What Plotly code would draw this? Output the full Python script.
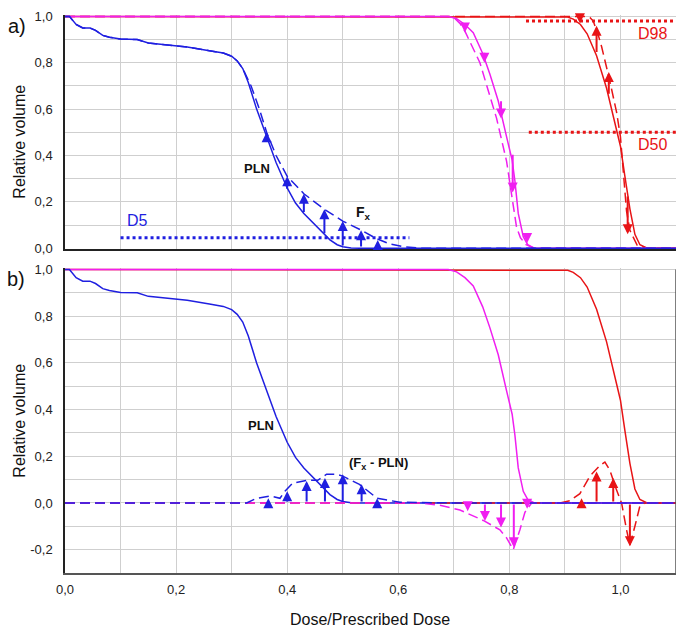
import plotly.graph_objects as go

# ---------------- data ----------------
pln_x = [0.000, 0.008, 0.020, 0.032, 0.045, 0.055, 0.068, 0.080, 0.100, 0.130, 0.150, 0.180, 0.220, 0.260,
         0.285, 0.300, 0.310, 0.320, 0.330, 0.345, 0.363, 0.380, 0.400, 0.415, 0.430, 0.447, 0.459, 0.468,
         0.477, 0.490, 0.500, 0.515, 0.530, 1.100]
pln_y = [1.000, 1.000, 0.965, 0.950, 0.950, 0.940, 0.918, 0.910, 0.902, 0.900, 0.885, 0.878, 0.868, 0.852,
         0.842, 0.828, 0.808, 0.775, 0.715, 0.600, 0.480, 0.370, 0.260, 0.195, 0.150, 0.108, 0.082, 0.060,
         0.036, 0.015, 0.006, 0.001, 0.000, 0.000]

pln_fx_x = [0.000, 0.008, 0.020, 0.032, 0.045, 0.055, 0.068, 0.080, 0.100, 0.130, 0.150, 0.180, 0.220, 0.260,
            0.285, 0.300, 0.310, 0.320, 0.335, 0.350, 0.363, 0.380, 0.400, 0.430, 0.467, 0.500, 0.534, 0.560,
            0.585, 0.610, 0.640, 1.100]
pln_fx_y = [1.000, 1.000, 0.965, 0.950, 0.950, 0.940, 0.918, 0.910, 0.902, 0.900, 0.885, 0.878, 0.868, 0.852,
            0.842, 0.828, 0.808, 0.775, 0.700, 0.600, 0.500, 0.400, 0.310, 0.235, 0.168, 0.117, 0.077, 0.042,
            0.018, 0.006, 0.000, 0.000]

mag_x = [0.000, 0.690, 0.705, 0.720, 0.735, 0.752, 0.765, 0.780, 0.795, 0.805, 0.810, 0.816, 0.825, 0.833, 0.845, 1.100]
mag_y = [1.000, 1.000, 0.990, 0.965, 0.930, 0.840, 0.750, 0.635, 0.480, 0.380, 0.290, 0.150, 0.050, 0.015, 0.000, 0.000]

mag_fx_x = [0.000, 0.690, 0.700, 0.711, 0.720, 0.747, 0.777, 0.795, 0.803, 0.813, 0.820, 0.830, 0.845, 1.100]
mag_fx_y = [1.000, 1.000, 0.995, 0.970, 0.936, 0.800, 0.560, 0.375, 0.247, 0.090, 0.045, 0.015, 0.000, 0.000]

red_x = [0.000, 0.890, 0.905, 0.915, 0.928, 0.940, 0.957, 0.975, 0.990, 1.000, 1.008, 1.017, 1.026, 1.035, 1.048, 1.100]
red_y = [1.000, 1.000, 0.997, 0.988, 0.965, 0.925, 0.830, 0.690, 0.540, 0.440, 0.310, 0.170, 0.060, 0.015, 0.000, 0.000]

red_fx_x = [0.000, 0.935, 0.945, 0.951, 0.960, 0.966, 0.980, 0.993, 1.000, 1.005, 1.011, 1.017, 1.030, 1.048, 1.100]
red_fx_y = [1.000, 1.000, 0.995, 0.980, 0.920, 0.870, 0.730, 0.587, 0.480, 0.345, 0.160, 0.077, 0.013, 0.000, 0.000]

# differences (Fx - PLN), panel b
pln_diff_x = [0.000, 0.327, 0.345, 0.369, 0.387, 0.396, 0.410, 0.435, 0.455, 0.471, 0.489, 0.500, 0.530, 0.562, 0.603, 0.700, 1.100]
pln_diff_y = [0.000, 0.000, 0.020, 0.030, 0.020, 0.050, 0.085, 0.097, 0.097, 0.123, 0.123, 0.115, 0.080, 0.020, 0.003, 0.000, 0.000]

mag_diff_x = [0.000, 0.640, 0.675, 0.711, 0.753, 0.783, 0.795, 0.807, 0.819, 0.828, 0.840, 1.100]
mag_diff_y = [0.000, 0.000, -0.010, -0.030, -0.075, -0.115, -0.150, -0.200, -0.115, -0.040, 0.000, 0.000]

red_diff_x = [0.000, 0.891, 0.909, 0.927, 0.945, 0.963, 0.972, 0.981, 0.993, 1.002, 1.011, 1.017, 1.026, 1.035, 1.044, 1.100]
red_diff_y = [0.000, 0.000, 0.010, 0.040, 0.115, 0.160, 0.175, 0.140, 0.055, 0.000, -0.115, -0.180, -0.100, -0.013, 0.000, 0.000]

# arrows panel a: x, from (PLN), to (Fx)
a_pln_arrow_x = [0.363, 0.400, 0.430, 0.467, 0.500, 0.533, 0.563]
a_pln_arrow_from = [0.470, 0.250, 0.150, 0.058, 0.005, 0.001, 0.001]
a_pln_arrow_to = [0.500, 0.310, 0.235, 0.168, 0.117, 0.077, 0.035]

a_mag_arrow_x = [0.720, 0.755, 0.785, 0.806, 0.832]
a_mag_arrow_from = [0.960, 0.850, 0.640, 0.410, 0.040]
a_mag_arrow_to = [0.930, 0.800, 0.560, 0.240, 0.022]

a_red_arrow_x = [0.927, 0.957, 0.979, 1.013, 1.033]
a_red_arrow_from = [0.990, 0.840, 0.660, 0.230, 0.025]
a_red_arrow_to = [0.970, 0.960, 0.760, 0.060, 0.008]

# arrows panel b: x, tip (base = 0)
b_pln_arrow_x = [0.366, 0.400, 0.435, 0.468, 0.500, 0.534, 0.562]
b_pln_arrow_to = [0.020, 0.050, 0.094, 0.107, 0.123, 0.080, 0.020]

b_mag_arrow_x = [0.725, 0.756, 0.785, 0.808, 0.832]
b_mag_arrow_to = [-0.035, -0.077, -0.105, -0.190, -0.025]

b_red_arrow_x = [0.930, 0.957, 0.987, 1.017, 1.037]
b_red_arrow_to = [0.020, 0.135, 0.107, -0.185, -0.015]

# reference dose levels
d5_x = [0.10, 0.62]
d5_y = [0.045, 0.045]
d98_x = [0.83, 1.10]
d98_y = [0.98, 0.98]
d50_x = [0.835, 1.10]
d50_y = [0.50, 0.50]

x_tick_vals = [0.0, 0.1, 0.2, 0.3, 0.4, 0.5, 0.6, 0.7, 0.8, 0.9, 1.0, 1.1]
x_tick_text = ["0,0", "", "0,2", "", "0,4", "", "0,6", "", "0,8", "", "1,0", ""]
ya_tick_vals = [0.0, 0.1, 0.2, 0.3, 0.4, 0.5, 0.6, 0.7, 0.8, 0.9, 1.0]
ya_tick_text = ["0,0", "", "0,2", "", "0,4", "", "0,6", "", "0,8", "", "1,0"]
yb_tick_vals = [-0.3, -0.2, -0.1, 0.0, 0.1, 0.2, 0.3, 0.4, 0.5, 0.6, 0.7, 0.8, 0.9, 1.0]
yb_tick_text = ["", "-0,2", "", "0,0", "", "0,2", "", "0,4", "", "0,6", "", "0,8", "", "1,0"]

# ---------------- style ----------------
BLUE = "#1f1fe0"
MAG = "#f01ef0"
RED = "#e81416"
DASH = "10px,5px"
LW = 1.5
FONT = "Liberation Sans, Arial, sans-serif"

fig = go.Figure()


def line(x, y, color, xa, ya, dash=None, width=LW):
    fig.add_trace(go.Scatter(x=x, y=y, mode="lines", xaxis=xa, yaxis=ya,
                             line=dict(color=color, width=width, dash=dash),
                             hoverinfo="skip", showlegend=False))


# panel a
line(red_x, red_y, RED, "x", "y")
line(red_fx_x, red_fx_y, RED, "x", "y", DASH)
line(mag_x, mag_y, MAG, "x", "y")
line(mag_fx_x, mag_fx_y, MAG, "x", "y", DASH)
line(pln_x, pln_y, BLUE, "x", "y")
line(pln_fx_x, pln_fx_y, BLUE, "x", "y", DASH)
line(d5_x, d5_y, BLUE, "x", "y", "dot", 3)
line(d98_x, d98_y, RED, "x", "y", "dot", 3)
line(d50_x, d50_y, RED, "x", "y", "dot", 3)

# panel b
line(red_x, red_y, RED, "x2", "y2")
line(mag_x, mag_y, MAG, "x2", "y2")
line(pln_x, pln_y, BLUE, "x2", "y2")
line(red_diff_x, red_diff_y, RED, "x2", "y2", DASH)
line(mag_diff_x, mag_diff_y, MAG, "x2", "y2", DASH)
line(pln_diff_x, pln_diff_y, BLUE, "x2", "y2", DASH)

annotations = []


def arrows(xs, y0s, y1s, color, xr, yr):
    for xv, a, b in zip(xs, y0s, y1s):
        annotations.append(dict(x=xv, y=b, ax=xv, ay=a, xref=xr, yref=yr, axref=xr, ayref=yr,
                                text="", showarrow=True, arrowhead=2, arrowsize=1.0,
                                arrowwidth=2.0, arrowcolor=color, standoff=0, startstandoff=0))


arrows(a_pln_arrow_x, a_pln_arrow_from, a_pln_arrow_to, BLUE, "x", "y")
arrows(a_mag_arrow_x, a_mag_arrow_from, a_mag_arrow_to, MAG, "x", "y")
arrows(a_red_arrow_x, a_red_arrow_from, a_red_arrow_to, RED, "x", "y")
arrows(b_pln_arrow_x, [0.0] * len(b_pln_arrow_x), b_pln_arrow_to, BLUE, "x2", "y2")
arrows(b_mag_arrow_x, [0.0] * len(b_mag_arrow_x), b_mag_arrow_to, MAG, "x2", "y2")
arrows(b_red_arrow_x, [0.0] * len(b_red_arrow_x), b_red_arrow_to, RED, "x2", "y2")


def label(text, x, y, xr, yr, size=13, color="#111111", **kw):
    annotations.append(dict(text=text, x=x, y=y, xref=xr, yref=yr, showarrow=False,
                            xanchor="center", yanchor="middle",
                            font=dict(family=FONT, size=size, color=color), **kw))


label("<b>PLN</b>", 0.346, 0.345, "x", "y")
label("<b>F<sub>x</sub></b>", 0.537, 0.15, "x", "y", size=14)
label("D5", 0.131, 0.12, "x", "y", size=16, color=BLUE)
label("D98", 1.057, 0.925, "x", "y", size=16, color=RED)
label("D50", 1.057, 0.447, "x", "y", size=16, color=RED)
label("<b>PLN</b>", 0.353, 0.33, "x2", "y2")
label("<b>(F<sub>x</sub> - PLN)</b>", 0.564, 0.17, "x2", "y2")

label("a)", -0.079, 0.980, "paper", "paper", size=20)
label("b)", -0.080, 0.527, "paper", "paper", size=20)
label("Relative volume", -0.0737, 0.773, "paper", "paper", size=16, textangle=-90)
label("Relative volume", -0.0737, 0.273, "paper", "paper", size=16, textangle=-90)
label("Dose/Prescribed Dose", 0.499, -0.084, "paper", "paper", size=16)

GRID = "#cfcfcf"
axis_common = dict(showgrid=True, gridcolor=GRID, gridwidth=1, zeroline=False,
                   tickfont=dict(family=FONT, size=13, color="#222222"),
                   ticks="outside", tickcolor="rgba(0,0,0,0)")

fig.update_layout(
    width=685, height=632,
    margin=dict(l=65, r=9, t=13, b=59),
    plot_bgcolor="white", paper_bgcolor="white",
    showlegend=False,
    annotations=annotations,
    xaxis=dict(domain=[0, 1], anchor="y", range=[0, 1.1], tickvals=x_tick_vals, ticklen=4,
               showticklabels=False, showline=True, linecolor="#222222", linewidth=1.5, **axis_common),
    yaxis=dict(domain=[0.5804, 1.0], anchor="x", range=[-0.004, 1.006], tickvals=ya_tick_vals, ticklen=8,
               ticktext=ya_tick_text, showline=True, linecolor="#222222", linewidth=1.5, **axis_common),
    xaxis2=dict(domain=[0, 1], anchor="y2", range=[0, 1.1], tickvals=x_tick_vals, ticktext=x_tick_text,
                ticklen=4, showline=True, linecolor="#555555", linewidth=1.5, mirror=False, **axis_common),
    yaxis2=dict(domain=[0.0, 0.5464], anchor="x2", range=[-0.3, 1.006], tickvals=yb_tick_vals, ticklen=8,
                ticktext=yb_tick_text, showline=True, linecolor="#222222", linewidth=1.5, **axis_common),
    shapes=[dict(type="line", xref="x2", yref="y2", x0=1.1, x1=1.1, y0=-0.3, y1=1.0,
                 line=dict(color="#555555", width=1.5))],
)

fig.write_html("out.html", config={"displayModeBar": False},
               post_script="document.body.style.margin='0px';")
